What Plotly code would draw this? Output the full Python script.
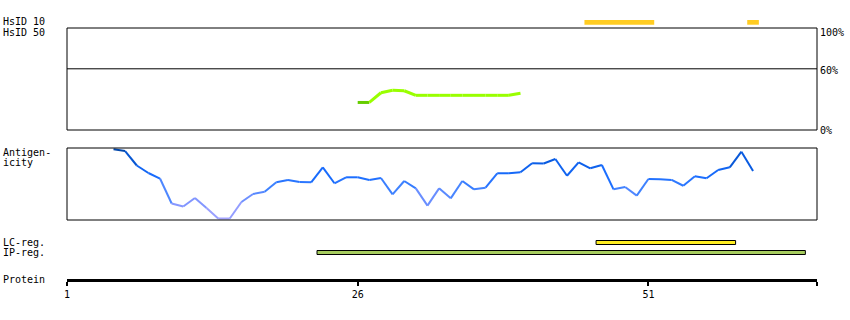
import plotly.graph_objects as go
from plotly.colors import sample_colorscale

# ---------------- data ----------------
protein_length = 65
tick_residues = [1, 26, 51]
tick_labels = ["1", "26", "51"]

hsid10_regions = [(46, 51), (60, 60)]          # residue ranges, identity >= 10
hsid50_residues = list(range(26, 41))
hsid50_values = [27, 27, 36.5, 39, 38.5, 34, 34, 34, 34, 34, 34, 34, 34, 34, 36]  # percent

antigen_residues = list(range(5, 61))
antigen_values = [98.2, 95.8, 75.7, 65.3, 57.6, 22.9, 18.75, 30.6, 16.7, 2.1,
                  2.1, 25, 36.1, 39.3, 52.4, 55.6, 52.8, 52.4, 73.2, 51,
                  59.3, 59.3, 55.6, 58.3, 35.7, 54.2, 44, 19.9, 44, 30.1,
                  54.2, 42.6, 44.9, 64.9, 64.9, 66.3, 78.8, 78.5, 84.7, 61.5,
                  80.1, 71.8, 76.4, 42.6, 45.8, 33.8, 56.9, 56.5, 55.6, 47.6,
                  60.7, 57.9, 69.4, 73.2, 94.9, 68.1]

lc_region = (47, 58)
ip_region = (23, 64)

# ---------------- helpers ----------------
W, H = 850, 320
def py(p):  # pixel row -> paper y
    return 1 - p / H

MONO = "DejaVu Sans Mono"
fig = go.Figure()

# HsID 50 line (segment colours)
for i in range(len(hsid50_residues) - 1):
    col = "#66cc00" if hsid50_values[i + 1] < 30 else "#99ff00"
    fig.add_trace(go.Scatter(x=hsid50_residues[i:i + 2], y=hsid50_values[i:i + 2],
                             mode="lines", line=dict(color=col, width=3),
                             xaxis="x", yaxis="y2", hoverinfo="skip", showlegend=False))

# Antigenicity line, coloured by value
ant_scale = [[0.0, "#aaa6ff"], [0.25, "#8095ff"], [0.45, "#3f82ff"],
             [0.6, "#1a6dff"], [0.8, "#0a5de6"], [1.0, "#0043a0"]]
for i in range(len(antigen_residues) - 1):
    v = (antigen_values[i] + antigen_values[i + 1]) / 2 / 100
    col = sample_colorscale(ant_scale, [v])[0]
    fig.add_trace(go.Scatter(x=antigen_residues[i:i + 2], y=antigen_values[i:i + 2],
                             mode="lines", line=dict(color=col, width=2),
                             xaxis="x", yaxis="y3", hoverinfo="skip", showlegend=False))

shapes = []
# HsID 10 bars
for s, e in hsid10_regions:
    shapes.append(dict(type="rect", xref="x", yref="paper", x0=s - 0.5, x1=e + 0.5,
                       y0=py(24.7), y1=py(20), fillcolor="#ffcc22", line=dict(width=0)))
# HsID 50 box + 60% line
shapes.append(dict(type="rect", xref="x domain", yref="y2 domain", x0=0, x1=1, y0=0, y1=1,
                   line=dict(color="black", width=1)))
shapes.append(dict(type="line", xref="x domain", yref="y2", x0=0, x1=1, y0=60, y1=60,
                   line=dict(color="black", width=1)))
# antigenicity box
shapes.append(dict(type="rect", xref="x domain", yref="y3 domain", x0=0, x1=1, y0=0, y1=1,
                   line=dict(color="black", width=1)))
# regions
shapes.append(dict(type="rect", xref="x", yref="paper", x0=lc_region[0] - 0.5, x1=lc_region[1] + 0.5,
                   y0=py(244.5), y1=py(240.5), fillcolor="#ffee22", line=dict(color="black", width=1)))
shapes.append(dict(type="rect", xref="x", yref="paper", x0=ip_region[0] - 0.5, x1=ip_region[1] + 0.5,
                   y0=py(254.5), y1=py(250.5), fillcolor="#a6cc5e", line=dict(color="black", width=1)))

ann = []
def label(text, x, y, anchor="left"):
    ann.append(dict(text=text, x=x / W, y=py(y), xref="paper", yref="paper",
                    xanchor=anchor, yanchor="middle", showarrow=False,
                    font=dict(family=MONO, size=10, color="black")))

label("HsID 10", 1, 22)
label("HsID 50", 1, 32.5)
label("Antigen-", 1, 152.5)
label("icity", 1, 162.5)
label("LC-reg.", 1, 242.5)
label("IP-reg.", 1, 252.5)
label("Protein", 1, 279.5)
label("100%", 818, 32.5)
label("60%", 818, 70.5)
label("0%", 818, 130.5)

fig.update_layout(
    template="none",
    width=W, height=H, margin=dict(l=0, r=0, t=0, b=0, pad=0, autoexpand=False),
    paper_bgcolor="white", plot_bgcolor="white",
    showlegend=False, shapes=shapes, annotations=ann,
    xaxis=dict(domain=[67 / W, 817 / W], range=[1, protein_length + 0.5],
               anchor="free", position=py(279.5), showline=True, linecolor="black",
               linewidth=3, ticks="outside", ticklen=4, tickwidth=2, tickcolor="black",
               tickvals=tick_residues + [protein_length + 0.5],
               ticktext=tick_labels + [""], automargin=False,
               tickfont=dict(family=MONO, size=10, color="black"),
               showgrid=False, zeroline=False, fixedrange=True),
    yaxis=dict(visible=False, domain=[0, 0.05], automargin=False),
    yaxis2=dict(domain=[py(130), py(28)], range=[0, 100], visible=False, anchor="x", automargin=False),
    yaxis3=dict(domain=[py(220), py(148)], range=[0, 100], visible=False, anchor="x", automargin=False),
)

fig.write_html("out.html")
